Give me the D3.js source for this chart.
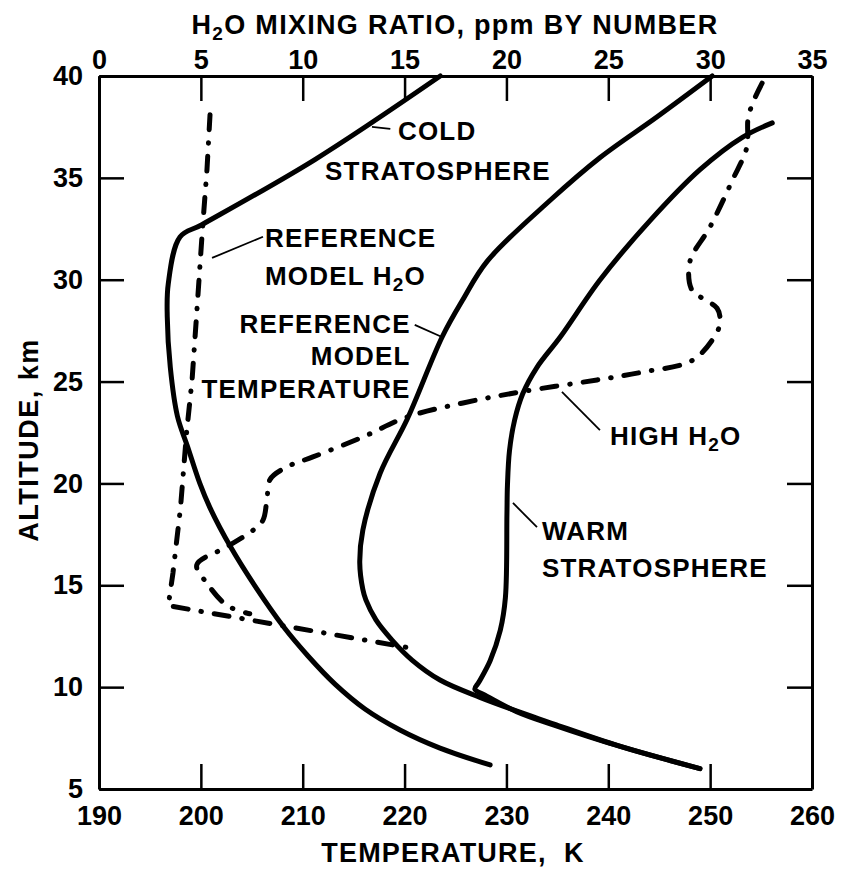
<!DOCTYPE html>
<html>
<head>
<meta charset="utf-8">
<script src="https://cdn.jsdelivr.net/npm/d3@7"></script>
<style>
  body { margin: 0; background: #fff; }
  text { font-family: "Liberation Sans", Arial, sans-serif; font-weight: bold; fill: #000; }
</style>
</head>
<body>
<div id="chart-area"></div>
<script>
// temperature profiles: [K, km]
const coldStratosphere = [
  [223.5, 40], [211.2, 35.9], [200.1, 32.7], [197.95, 32.1], [196.8, 29.8], [196.7, 28.2],
  [197.0, 25.7], [197.7, 23.3], [198.7, 21.8], [199.9, 20.0], [200.9, 18.8], [202.9, 16.9],
  [205.5, 14.82], [208.06, 13.0], [210.52, 11.53], [213.17, 10.15], [216.11, 8.93],
  [219.55, 7.9], [223.48, 7.01], [228.4, 6.18]
]
const referenceTemperature = [
  [250.2, 40], [244.8, 38.0], [239.2, 36.0], [234.3, 33.9], [228.1, 30.9], [225.7, 29.0],
  [223.7, 27.2], [220.3, 23.2], [217.6, 20.5], [215.9, 17.7], [215.6, 16.1], [215.9, 14.8],
  [216.2, 14.28], [217.19, 13.3], [218.77, 12.31], [220.73, 11.33], [223.48, 10.35],
  [227.4, 9.5], [232.3, 8.6], [234.6, 8.2], [241.1, 7.1], [249.0, 6.0]
]
const warmStratosphere = [
  [256.1, 37.7], [253.2, 37.0], [249.0, 35.4], [244.1, 32.9], [239.2, 30.0], [235.3, 27.2],
  [233.0, 25.7], [231.6, 24.4], [230.8, 23.1], [230.3, 21.6], [230.1, 19.9], [230.05, 18.5],
  [229.9, 14.4], [229.4, 12.8], [228.4, 11.3], [227.3, 10.25], [226.9, 9.9], [227.9, 9.61],
  [231.0, 8.8], [234.6, 8.15], [241.1, 7.1], [249.0, 6.0]
]

// water vapour profiles: [ppm, km]
const referenceH2O = [
  [5.45, 38.1], [5.3, 35.4], [5.08, 32.5], [4.8, 28.4], [4.57, 25.1], [4.3, 22.5],
  [4.0, 18.8], [3.63, 15.6], [3.4, 14.0], [15.4, 11.9]
]
const highH2O = [
  [32.55, 39.65], [32.1, 38.7], [31.86, 37.9], [31.8, 36.5], [31.1, 34.9], [30.0, 32.6],
  [29.0, 30.87], [29.1, 29.5], [29.6, 29.1], [30.34, 28.6], [30.49, 28.0], [30.34, 27.43],
  [29.16, 26.06], [26.7, 25.47], [24.45, 25.08], [20.67, 24.49], [17.87, 23.95], [15.12, 23.26],
  [13.0, 22.3], [10.5, 21.3], [9.2, 20.8], [8.4, 20.2], [8.25, 19.3], [8.05, 18.2],
  [7.56, 17.7], [6.3, 16.9], [4.8, 16.0], [5.3, 15.1], [6.3, 14.0], [7.4, 13.6]
]

const tempTicks = [190, 200, 210, 220, 230, 240, 250, 260]
const ppmTicks = [0, 5, 10, 15, 20, 25, 30, 35]
const altTicks = [5, 10, 15, 20, 25, 30, 35, 40]

// labels placed in temperature/altitude units
const labels = [
  { t: 219.35, alt: 36.86, text: "COLD" },
  { t: 212.19, alt: 34.9, text: "STRATOSPHERE" },
  { t: 206.3, alt: 31.6, text: "REFERENCE" },
  { t: 206.3, alt: 29.74, text: "MODEL H", sub: "2", after: "O" },
  { t: 220.6, alt: 27.38, text: "REFERENCE", anchor: "end" },
  { t: 220.6, alt: 25.81, text: "MODEL", anchor: "end" },
  { t: 220.6, alt: 24.19, text: "TEMPERATURE", anchor: "end" },
  { t: 240.17, alt: 21.89, text: "HIGH H", sub: "2", after: "O" },
  { t: 233.49, alt: 17.22, text: "WARM" },
  { t: 233.49, alt: 15.41, text: "STRATOSPHERE" }
]
const leaders = [
  [[216.8, 37.5], [218.6, 37.4]],
  [[201.1, 31.07], [206.1, 32.11]],
  [[221.0, 27.78], [223.67, 27.19]],
  [[235.45, 24.49], [239.18, 22.62]],
  [[230.64, 19.04], [233.0, 17.86]]
]

const svg = d3.select("#chart-area")
  .append("svg")
  .attr("width", 842)
  .attr("height", 871)

const x = d3.scaleLinear().domain([190, 260]).range([99, 812])
const xTop = d3.scaleLinear().domain([0, 35]).range([99, 812])
const y = d3.scaleLinear().domain([5, 40]).range([789, 76])

const tickLen = 25

// axes, ticks pointing inward
const axisB = svg.append("g")
  .attr("transform", `translate(0, ${y(5)})`)
  .call(d3.axisBottom(x).tickValues(tempTicks).tickSize(-tickLen).tickSizeOuter(0).tickPadding(17))
const axisT = svg.append("g")
  .attr("transform", `translate(0, ${y(40)})`)
  .call(d3.axisTop(xTop).tickValues(ppmTicks).tickSize(-tickLen).tickSizeOuter(0).tickPadding(7))
const axisL = svg.append("g")
  .attr("transform", `translate(${x(190)}, 0)`)
  .call(d3.axisLeft(y).tickValues(altTicks).tickSize(-tickLen).tickSizeOuter(0).tickPadding(16))
const axisR = svg.append("g")
  .attr("transform", `translate(${x(260)}, 0)`)
  .call(d3.axisRight(y).tickValues(altTicks).tickSize(-tickLen).tickSizeOuter(0).tickFormat(""))

;[axisB, axisT, axisL, axisR].forEach(a => {
  a.selectAll(".domain").attr("stroke", "#000").attr("stroke-width", 3)
  a.selectAll(".tick line").attr("stroke", "#000").attr("stroke-width", 2.5)
  a.selectAll("text").attr("font-size", 27).attr("font-family", null).attr("fill", "#000")
})

// axis titles
svg.append("text")
  .attr("x", 455).attr("y", 34)
  .attr("text-anchor", "middle")
  .attr("font-size", 27).attr("letter-spacing", 1.3)
  .call(t => {
    t.append("tspan").text("H")
    t.append("tspan").attr("font-size", 19).attr("dy", 6).text("2")
    t.append("tspan").attr("dy", -6).text("O MIXING RATIO, ppm BY NUMBER")
  })

svg.append("text")
  .attr("x", 453).attr("y", 862)
  .attr("text-anchor", "middle")
  .attr("font-size", 27).attr("letter-spacing", 1.2)
  .attr("xml:space", "preserve")
  .text("TEMPERATURE,  K")

svg.append("text")
  .attr("transform", `translate(38, 440) rotate(-90)`)
  .attr("text-anchor", "middle")
  .attr("font-size", 27).attr("letter-spacing", 1.5)
  .text("ALTITUDE, km")

// profile lines
const tempLine = d3.line()
  .x(d => x(d[0]))
  .y(d => y(d[1]))
  .curve(d3.curveCatmullRom.alpha(0.5))

const ppmLine = d3.line()
  .x(d => xTop(d[0]))
  .y(d => y(d[1]))

const solid = [coldStratosphere, referenceTemperature, warmStratosphere]
svg.selectAll(".temp")
  .data(solid)
  .enter().append("path")
  .attr("class", "temp")
  .attr("d", tempLine)
  .attr("fill", "none")
  .attr("stroke", "#000")
  .attr("stroke-width", 5)
  .attr("stroke-linecap", "round")
  .attr("stroke-linejoin", "round")

svg.append("path")
  .attr("d", ppmLine.curve(d3.curveLinear)(referenceH2O))
  .attr("fill", "none")
  .attr("stroke", "#000")
  .attr("stroke-width", 5)
  .attr("stroke-linecap", "round")
  .attr("stroke-dasharray", "15,13,0.5,13")

svg.append("path")
  .attr("d", ppmLine.curve(d3.curveCatmullRom.alpha(0.5))(highH2O))
  .attr("fill", "none")
  .attr("stroke", "#000")
  .attr("stroke-width", 5)
  .attr("stroke-linecap", "round")
  .attr("stroke-dasharray", "15,13,0.5,13")

// annotations
svg.selectAll(".leader")
  .data(leaders)
  .enter().append("line")
  .attr("class", "leader")
  .attr("x1", d => x(d[0][0])).attr("y1", d => y(d[0][1]))
  .attr("x2", d => x(d[1][0])).attr("y2", d => y(d[1][1]))
  .attr("stroke", "#000")
  .attr("stroke-width", 1.8)

svg.selectAll(".label")
  .data(labels)
  .enter().append("text")
  .attr("class", "label")
  .attr("x", d => x(d.t))
  .attr("y", d => y(d.alt))
  .attr("text-anchor", d => d.anchor || "start")
  .attr("font-size", 26)
  .attr("letter-spacing", 1.2)
  .each(function(d) {
    const t = d3.select(this)
    t.append("tspan").text(d.text)
    if (d.sub) {
      t.append("tspan").attr("font-size", 19).attr("dy", 6).text(d.sub)
      t.append("tspan").attr("dy", -6).text(d.after)
    }
  })
</script>
</body>
</html>
